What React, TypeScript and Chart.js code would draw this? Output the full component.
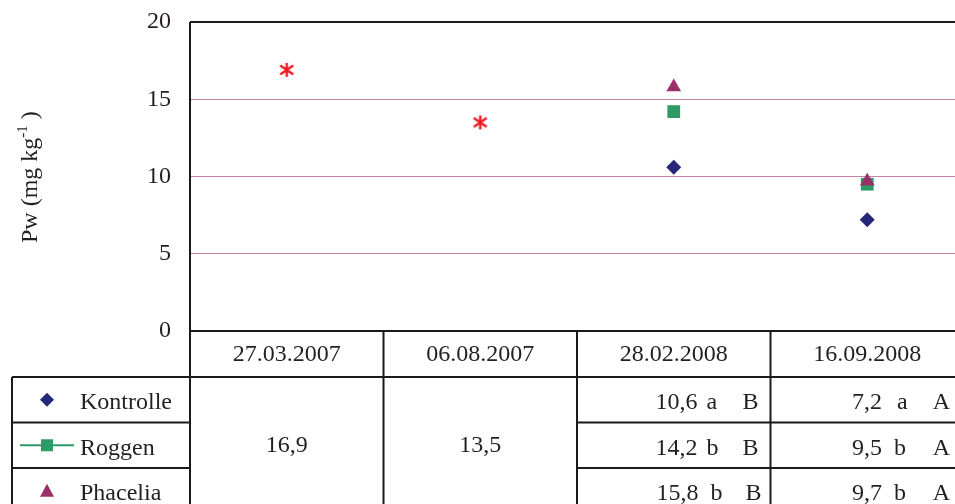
import React, { useEffect, useRef } from 'react';
import { Chart, registerables } from 'chart.js';

Chart.register(...registerables);

const categories = ['27.03.2007', '06.08.2007', '28.02.2008', '16.09.2008'];
const combinedValues = [16.9, 13.5, null, null];
const kontrolleValues = [null, null, 10.6, 7.2];
const roggenValues = [null, null, 14.2, 9.5];
const phaceliaValues = [null, null, 15.8, 9.7];
const seriesNames = ['Kontrolle', 'Roggen', 'Phacelia'];
const kontrolleSig = [null, null, 'a', 'a'];
const roggenSig = [null, null, 'b', 'b'];
const phaceliaSig = [null, null, 'b', 'b'];
const dateSig = [null, null, 'B', 'A'];
const yMin = 0;
const yMax = 20;
const yStep = 5;

const FONT = '"Liberation Serif", "Times New Roman", serif';
const TEXT = '#231f20';
const COL_K = '#252878';
const COL_R = '#2e9a66';
const COL_P = '#9b2f67';
const COL_STAR = '#ee1c24';
const GRID = '#c880a8';

const fmt = (v: number) => v.toFixed(1).replace('.', ',');

function makeStar(): HTMLCanvasElement {
  const c = document.createElement('canvas');
  c.width = 16;
  c.height = 16;
  const g = c.getContext('2d')!;
  g.strokeStyle = COL_STAR;
  g.lineWidth = 2.4;
  g.beginPath();
  g.moveTo(8, 1);
  g.lineTo(8, 15);
  g.moveTo(1.5, 3.5);
  g.lineTo(14.5, 12.5);
  g.moveTo(14.5, 3.5);
  g.lineTo(1.5, 12.5);
  g.stroke();
  return c;
}

const tablePlugin = {
  id: 'tablePlugin',
  afterDraw(chart: any) {
    const ctx = chart.ctx as CanvasRenderingContext2D;
    const a = chart.chartArea;
    const xs = chart.scales.x;
    const n = categories.length;
    const colW = (a.right - a.left) / n;
    const edges = categories.map((_, i) => xs.getPixelForValue(i) - colW / 2);
    edges.push(xs.getPixelForValue(n - 1) + colW / 2);
    const H = chart.height;
    const headerBottom = a.bottom + 46;
    const rowH = 45.5;
    const rowTops = [0, 1, 2].map((i) => headerBottom + i * rowH);
    const tableLeft = 12;

    ctx.save();
    ctx.strokeStyle = '#1a1a1a';
    ctx.lineWidth = 2;
    ctx.beginPath();
    // plot frame
    ctx.moveTo(a.left, a.top);
    ctx.lineTo(edges[n], a.top);
    ctx.moveTo(a.left, a.top);
    ctx.lineTo(a.left, H);
    ctx.moveTo(a.left, a.bottom);
    ctx.lineTo(edges[n], a.bottom);
    // table
    ctx.moveTo(tableLeft, headerBottom);
    ctx.lineTo(edges[n], headerBottom);
    ctx.moveTo(tableLeft, headerBottom);
    ctx.lineTo(tableLeft, H);
    for (let i = 1; i <= n; i++) {
      ctx.moveTo(edges[i], a.bottom);
      ctx.lineTo(edges[i], H);
    }
    for (let r = 1; r < 3; r++) {
      const y = rowTops[r];
      ctx.moveTo(tableLeft, y);
      ctx.lineTo(a.left, y);
      ctx.moveTo(edges[2], y);
      ctx.lineTo(edges[n], y);
    }
    ctx.stroke();

    // legend markers
    const mx = 47;
    const cy = rowTops.map((t) => t + rowH / 2);
    ctx.fillStyle = COL_K;
    ctx.beginPath();
    ctx.moveTo(mx, cy[0] - 7);
    ctx.lineTo(mx + 7, cy[0]);
    ctx.lineTo(mx, cy[0] + 7);
    ctx.lineTo(mx - 7, cy[0]);
    ctx.closePath();
    ctx.fill();

    ctx.strokeStyle = COL_R;
    ctx.lineWidth = 2;
    ctx.beginPath();
    ctx.moveTo(20, cy[1]);
    ctx.lineTo(74, cy[1]);
    ctx.stroke();
    ctx.fillStyle = COL_R;
    ctx.fillRect(mx - 6, cy[1] - 6, 12, 12);

    ctx.fillStyle = COL_P;
    ctx.beginPath();
    ctx.moveTo(mx, cy[2] - 7);
    ctx.lineTo(mx + 7, cy[2] + 6);
    ctx.lineTo(mx - 7, cy[2] + 6);
    ctx.closePath();
    ctx.fill();

    // legend text
    ctx.fillStyle = TEXT;
    ctx.font = `24px ${FONT}`;
    ctx.textBaseline = 'middle';
    ctx.textAlign = 'left';
    seriesNames.forEach((s, i) => ctx.fillText(s, 80, cy[i] + 3));

    // merged cells
    ctx.textAlign = 'center';
    const mergedY = (headerBottom + rowTops[2] + rowH) / 2;
    for (let c = 0; c < 2; c++) {
      const v = combinedValues[c];
      if (v != null) ctx.fillText(fmt(v), (edges[c] + edges[c + 1]) / 2, mergedY);
    }

    // value cells
    const series = [kontrolleValues, roggenValues, phaceliaValues];
    const sigs = [kontrolleSig, roggenSig, phaceliaSig];
    const layout: Record<number, { v: number[]; l: number[]; c: number[] }> = {
      2: { v: [73, 73, 72], l: [64, 64, 60], c: [12, 12, 9] },
      3: { v: [82, 82, 82], l: [67, 70, 70], c: [14, 14, 14] },
    };
    for (let c = 2; c < n; c++) {
      const R = edges[c + 1];
      const L = layout[c];
      for (let r = 0; r < 3; r++) {
        const v = series[r][c];
        if (v == null) continue;
        const y = cy[r] + 3;
        ctx.textAlign = 'right';
        ctx.fillText(fmt(v), R - L.v[r], y);
        ctx.textAlign = 'left';
        ctx.fillText(String(sigs[r][c]), R - L.l[r], y);
        ctx.textAlign = 'right';
        ctx.fillText(String(dateSig[c]), R - L.c[r], y);
      }
    }

    // y axis title with superscript
    ctx.translate(37, 243);
    ctx.rotate(-Math.PI / 2);
    ctx.textAlign = 'left';
    ctx.textBaseline = 'alphabetic';
    ctx.font = `24px ${FONT}`;
    const t1 = 'Pw (mg kg';
    ctx.fillText(t1, 0, 0);
    let x = ctx.measureText(t1).width;
    ctx.font = `15px ${FONT}`;
    ctx.fillText('-1', x, -10);
    x += ctx.measureText('-1').width;
    ctx.font = `24px ${FONT}`;
    ctx.fillText(' )', x, 0);
    ctx.restore();
  },
};

export default function App() {
  const ref = useRef<HTMLCanvasElement>(null);
  useEffect(() => {
    if (!ref.current) return;
    const star = makeStar();
    const chart = new Chart(ref.current, {
      type: 'line',
      data: {
        labels: categories,
        datasets: [
          {
            label: 'Mittel',
            data: combinedValues,
            showLine: false,
            pointStyle: star as any,
            pointRadius: 8,
            borderColor: COL_STAR,
            backgroundColor: COL_STAR,
            order: 3,
          },
          {
            label: seriesNames[0],
            data: kontrolleValues,
            showLine: false,
            pointStyle: 'rectRot',
            pointRadius: 7.5,
            borderWidth: 0,
            borderColor: COL_K,
            backgroundColor: COL_K,
            order: 2,
          },
          {
            label: seriesNames[1],
            data: roggenValues,
            showLine: false,
            pointStyle: 'rect',
            pointRadius: 9,
            borderWidth: 0,
            borderColor: COL_R,
            backgroundColor: COL_R,
            order: 1,
          },
          {
            label: seriesNames[2],
            data: phaceliaValues,
            showLine: false,
            pointStyle: 'triangle',
            pointRadius: 8.5,
            borderWidth: 0,
            borderColor: COL_P,
            backgroundColor: COL_P,
            order: 0,
          },
        ],
      },
      options: {
        responsive: false,
        animation: false,
        layout: { padding: { top: 22, right: 11, left: 0, bottom: 0 } },
        plugins: { legend: { display: false }, tooltip: { enabled: false } },
        scales: {
          x: {
            type: 'category',
            offset: true,
            grid: { display: false, drawTicks: false },
            border: { display: false },
            ticks: { color: TEXT, font: { family: FONT, size: 24 }, padding: 9, maxRotation: 0 },
            afterFit: (s: any) => {
              s.height = 173;
              s.paddingLeft = 0;
              s.paddingRight = 0;
            },
          },
          y: {
            min: yMin,
            max: yMax,
            ticks: { stepSize: yStep, color: TEXT, font: { family: FONT, size: 24 }, padding: 19 },
            grid: {
              drawTicks: false,
              color: (c: any) => (c.tick && (c.tick.value === yMin || c.tick.value === yMax) ? 'rgba(0,0,0,0)' : GRID),
              lineWidth: 1,
            },
            border: { display: false },
            afterFit: (s: any) => {
              s.width = 190;
              s.paddingTop = 0;
              s.paddingBottom = 0;
            },
          },
        },
      },
      plugins: [tablePlugin],
    });
    return () => chart.destroy();
  }, []);
  return (
    <div style={{ position: 'fixed', left: 0, top: 0, width: 955, height: 504, overflow: 'hidden', background: '#fff' }}>
      <canvas ref={ref} width={975} height={504} style={{ width: 975, height: 504, display: 'block' }} />
    </div>
  );
}
